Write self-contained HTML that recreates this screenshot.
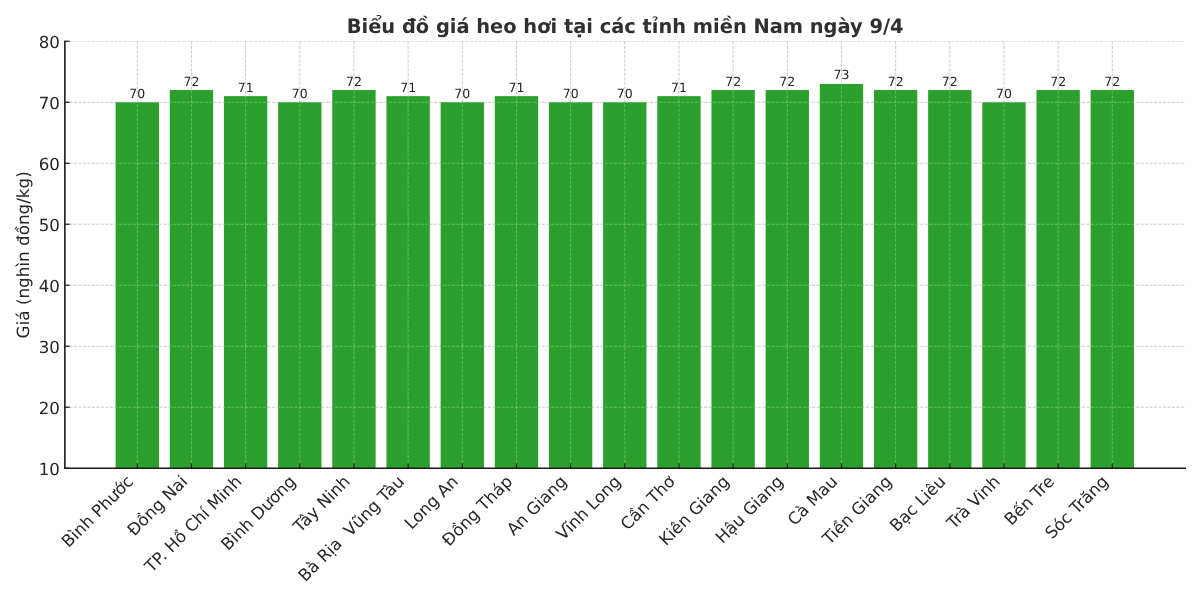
<!DOCTYPE html>
<html lang="vi"><head><meta charset="utf-8"><title>Biểu đồ giá heo hơi</title>
<style>
html,body{margin:0;padding:0;background:#fff;}
svg{display:block;}
text{font-family:"DejaVu Sans","Liberation Sans",sans-serif;fill:#262626;text-rendering:geometricPrecision;}
.tk{font-size:16.67px;}
.vl{font-size:12.5px;text-anchor:middle;}
.ti{font-size:19.42px;font-weight:bold;text-anchor:middle;fill:#303030;}
.yl{font-size:16.8px;text-anchor:middle;}
.xl{font-size:16.67px;text-anchor:end;white-space:pre;}
.yt{font-size:16.67px;text-anchor:end;}
</style></head><body>
<svg width="1200" height="600" viewBox="0 0 1200 600">
<rect width="1200" height="600" fill="#ffffff"/>
<clipPath id="ax"><rect x="65.00" y="41.25" width="1120.90" height="427.00"/></clipPath>
<g clip-path="url(#ax)" stroke="#b0b0b0" stroke-width="0.9" stroke-dasharray="3.1 1.4" stroke-opacity="0.75" fill="none">
<line x1="137.30" y1="41.25" x2="137.30" y2="468.25"/>
<line x1="191.47" y1="41.25" x2="191.47" y2="468.25"/>
<line x1="245.63" y1="41.25" x2="245.63" y2="468.25"/>
<line x1="299.80" y1="41.25" x2="299.80" y2="468.25"/>
<line x1="353.97" y1="41.25" x2="353.97" y2="468.25"/>
<line x1="408.13" y1="41.25" x2="408.13" y2="468.25"/>
<line x1="462.30" y1="41.25" x2="462.30" y2="468.25"/>
<line x1="516.47" y1="41.25" x2="516.47" y2="468.25"/>
<line x1="570.63" y1="41.25" x2="570.63" y2="468.25"/>
<line x1="624.80" y1="41.25" x2="624.80" y2="468.25"/>
<line x1="678.97" y1="41.25" x2="678.97" y2="468.25"/>
<line x1="733.13" y1="41.25" x2="733.13" y2="468.25"/>
<line x1="787.30" y1="41.25" x2="787.30" y2="468.25"/>
<line x1="841.47" y1="41.25" x2="841.47" y2="468.25"/>
<line x1="895.63" y1="41.25" x2="895.63" y2="468.25"/>
<line x1="949.80" y1="41.25" x2="949.80" y2="468.25"/>
<line x1="1003.97" y1="41.25" x2="1003.97" y2="468.25"/>
<line x1="1058.13" y1="41.25" x2="1058.13" y2="468.25"/>
<line x1="1112.30" y1="41.25" x2="1112.30" y2="468.25"/>
<line x1="65.00" y1="468.25" x2="1185.90" y2="468.25"/>
<line x1="65.00" y1="407.25" x2="1185.90" y2="407.25"/>
<line x1="65.00" y1="346.25" x2="1185.90" y2="346.25"/>
<line x1="65.00" y1="285.25" x2="1185.90" y2="285.25"/>
<line x1="65.00" y1="224.25" x2="1185.90" y2="224.25"/>
<line x1="65.00" y1="163.25" x2="1185.90" y2="163.25"/>
<line x1="65.00" y1="102.25" x2="1185.90" y2="102.25"/>
<line x1="65.00" y1="41.25" x2="1185.90" y2="41.25"/>
</g>
<g fill="#2ca02c">
<rect x="115.63" y="102.25" width="43.33" height="366.00"/>
<rect x="169.80" y="90.05" width="43.33" height="378.20"/>
<rect x="223.97" y="96.15" width="43.33" height="372.10"/>
<rect x="278.13" y="102.25" width="43.33" height="366.00"/>
<rect x="332.30" y="90.05" width="43.33" height="378.20"/>
<rect x="386.47" y="96.15" width="43.33" height="372.10"/>
<rect x="440.63" y="102.25" width="43.33" height="366.00"/>
<rect x="494.80" y="96.15" width="43.33" height="372.10"/>
<rect x="548.97" y="102.25" width="43.33" height="366.00"/>
<rect x="603.13" y="102.25" width="43.33" height="366.00"/>
<rect x="657.30" y="96.15" width="43.33" height="372.10"/>
<rect x="711.47" y="90.05" width="43.33" height="378.20"/>
<rect x="765.63" y="90.05" width="43.33" height="378.20"/>
<rect x="819.80" y="83.95" width="43.33" height="384.30"/>
<rect x="873.97" y="90.05" width="43.33" height="378.20"/>
<rect x="928.13" y="90.05" width="43.33" height="378.20"/>
<rect x="982.30" y="102.25" width="43.33" height="366.00"/>
<rect x="1036.47" y="90.05" width="43.33" height="378.20"/>
<rect x="1090.63" y="90.05" width="43.33" height="378.20"/>
</g>
<clipPath id="bars">
<rect x="115.63" y="102.25" width="43.33" height="366.00"/>
<rect x="169.80" y="90.05" width="43.33" height="378.20"/>
<rect x="223.97" y="96.15" width="43.33" height="372.10"/>
<rect x="278.13" y="102.25" width="43.33" height="366.00"/>
<rect x="332.30" y="90.05" width="43.33" height="378.20"/>
<rect x="386.47" y="96.15" width="43.33" height="372.10"/>
<rect x="440.63" y="102.25" width="43.33" height="366.00"/>
<rect x="494.80" y="96.15" width="43.33" height="372.10"/>
<rect x="548.97" y="102.25" width="43.33" height="366.00"/>
<rect x="603.13" y="102.25" width="43.33" height="366.00"/>
<rect x="657.30" y="96.15" width="43.33" height="372.10"/>
<rect x="711.47" y="90.05" width="43.33" height="378.20"/>
<rect x="765.63" y="90.05" width="43.33" height="378.20"/>
<rect x="819.80" y="83.95" width="43.33" height="384.30"/>
<rect x="873.97" y="90.05" width="43.33" height="378.20"/>
<rect x="928.13" y="90.05" width="43.33" height="378.20"/>
<rect x="982.30" y="102.25" width="43.33" height="366.00"/>
<rect x="1036.47" y="90.05" width="43.33" height="378.20"/>
<rect x="1090.63" y="90.05" width="43.33" height="378.20"/>
</clipPath>
<g clip-path="url(#bars)" stroke="#7ccf7c" stroke-width="0.9" stroke-dasharray="3.1 1.4" stroke-opacity="0.75" fill="none">
<line x1="137.30" y1="41.25" x2="137.30" y2="468.25"/>
<line x1="191.47" y1="41.25" x2="191.47" y2="468.25"/>
<line x1="245.63" y1="41.25" x2="245.63" y2="468.25"/>
<line x1="299.80" y1="41.25" x2="299.80" y2="468.25"/>
<line x1="353.97" y1="41.25" x2="353.97" y2="468.25"/>
<line x1="408.13" y1="41.25" x2="408.13" y2="468.25"/>
<line x1="462.30" y1="41.25" x2="462.30" y2="468.25"/>
<line x1="516.47" y1="41.25" x2="516.47" y2="468.25"/>
<line x1="570.63" y1="41.25" x2="570.63" y2="468.25"/>
<line x1="624.80" y1="41.25" x2="624.80" y2="468.25"/>
<line x1="678.97" y1="41.25" x2="678.97" y2="468.25"/>
<line x1="733.13" y1="41.25" x2="733.13" y2="468.25"/>
<line x1="787.30" y1="41.25" x2="787.30" y2="468.25"/>
<line x1="841.47" y1="41.25" x2="841.47" y2="468.25"/>
<line x1="895.63" y1="41.25" x2="895.63" y2="468.25"/>
<line x1="949.80" y1="41.25" x2="949.80" y2="468.25"/>
<line x1="1003.97" y1="41.25" x2="1003.97" y2="468.25"/>
<line x1="1058.13" y1="41.25" x2="1058.13" y2="468.25"/>
<line x1="1112.30" y1="41.25" x2="1112.30" y2="468.25"/>
<line x1="65.00" y1="407.25" x2="1185.90" y2="407.25"/>
<line x1="65.00" y1="346.25" x2="1185.90" y2="346.25"/>
<line x1="65.00" y1="285.25" x2="1185.90" y2="285.25"/>
<line x1="65.00" y1="224.25" x2="1185.90" y2="224.25"/>
<line x1="65.00" y1="163.25" x2="1185.90" y2="163.25"/>
<line x1="65.00" y1="102.25" x2="1185.90" y2="102.25"/>
</g>
<g stroke="#1c1c1c" fill="none">
<line stroke-width="1.6" x1="64.85" y1="40.65" x2="64.85" y2="469.00"/>
<line stroke-width="1.6" x1="64.05" y1="468.25" x2="1185.90" y2="468.25"/>
</g>
<g stroke="#1c1c1c" stroke-width="1.2" fill="none">
<line x1="137.30" y1="468.25" x2="137.30" y2="463.55"/>
<line x1="191.47" y1="468.25" x2="191.47" y2="463.55"/>
<line x1="245.63" y1="468.25" x2="245.63" y2="463.55"/>
<line x1="299.80" y1="468.25" x2="299.80" y2="463.55"/>
<line x1="353.97" y1="468.25" x2="353.97" y2="463.55"/>
<line x1="408.13" y1="468.25" x2="408.13" y2="463.55"/>
<line x1="462.30" y1="468.25" x2="462.30" y2="463.55"/>
<line x1="516.47" y1="468.25" x2="516.47" y2="463.55"/>
<line x1="570.63" y1="468.25" x2="570.63" y2="463.55"/>
<line x1="624.80" y1="468.25" x2="624.80" y2="463.55"/>
<line x1="678.97" y1="468.25" x2="678.97" y2="463.55"/>
<line x1="733.13" y1="468.25" x2="733.13" y2="463.55"/>
<line x1="787.30" y1="468.25" x2="787.30" y2="463.55"/>
<line x1="841.47" y1="468.25" x2="841.47" y2="463.55"/>
<line x1="895.63" y1="468.25" x2="895.63" y2="463.55"/>
<line x1="949.80" y1="468.25" x2="949.80" y2="463.55"/>
<line x1="1003.97" y1="468.25" x2="1003.97" y2="463.55"/>
<line x1="1058.13" y1="468.25" x2="1058.13" y2="463.55"/>
<line x1="1112.30" y1="468.25" x2="1112.30" y2="463.55"/>
<line x1="65.00" y1="468.25" x2="69.70" y2="468.25"/>
<line x1="65.00" y1="407.25" x2="69.70" y2="407.25"/>
<line x1="65.00" y1="346.25" x2="69.70" y2="346.25"/>
<line x1="65.00" y1="285.25" x2="69.70" y2="285.25"/>
<line x1="65.00" y1="224.25" x2="69.70" y2="224.25"/>
<line x1="65.00" y1="163.25" x2="69.70" y2="163.25"/>
<line x1="65.00" y1="102.25" x2="69.70" y2="102.25"/>
<line x1="65.00" y1="41.25" x2="69.70" y2="41.25"/>
</g>
<text class="yt" transform="translate(59.90,474.55)">10</text>
<text class="yt" transform="translate(59.90,413.55)">20</text>
<text class="yt" transform="translate(59.90,352.55)">30</text>
<text class="yt" transform="translate(59.90,291.55)">40</text>
<text class="yt" transform="translate(59.90,230.55)">50</text>
<text class="yt" transform="translate(59.90,169.55)">60</text>
<text class="yt" transform="translate(59.90,108.55)">70</text>
<text class="yt" transform="translate(59.90,47.55)">80</text>
<text class="vl" transform="translate(137.30,97.75) scale(1,1.01)">70</text>
<text class="vl" transform="translate(191.47,85.55) scale(1,1.01)">72</text>
<text class="vl" transform="translate(245.63,91.65) scale(1,1.01)">71</text>
<text class="vl" transform="translate(299.80,97.75) scale(1,1.01)">70</text>
<text class="vl" transform="translate(353.97,85.55) scale(1,1.01)">72</text>
<text class="vl" transform="translate(408.13,91.65) scale(1,1.01)">71</text>
<text class="vl" transform="translate(462.30,97.75) scale(1,1.01)">70</text>
<text class="vl" transform="translate(516.47,91.65) scale(1,1.01)">71</text>
<text class="vl" transform="translate(570.63,97.75) scale(1,1.01)">70</text>
<text class="vl" transform="translate(624.80,97.75) scale(1,1.01)">70</text>
<text class="vl" transform="translate(678.97,91.65) scale(1,1.01)">71</text>
<text class="vl" transform="translate(733.13,85.55) scale(1,1.01)">72</text>
<text class="vl" transform="translate(787.30,85.55) scale(1,1.01)">72</text>
<text class="vl" transform="translate(841.47,79.45) scale(1,1.01)">73</text>
<text class="vl" transform="translate(895.63,85.55) scale(1,1.01)">72</text>
<text class="vl" transform="translate(949.80,85.55) scale(1,1.01)">72</text>
<text class="vl" transform="translate(1003.97,97.75) scale(1,1.01)">70</text>
<text class="vl" transform="translate(1058.13,85.55) scale(1,1.01)">72</text>
<text class="vl" transform="translate(1112.30,85.55) scale(1,1.01)">72</text>
<text class="xl" transform="translate(134.30,482.50) rotate(-45)" xml:space="preserve">Bình Phước</text>
<text class="xl" transform="translate(188.47,482.50) rotate(-45)" xml:space="preserve">Đồng Nai</text>
<text class="xl" transform="translate(242.63,482.50) rotate(-45)" xml:space="preserve">TP. Hồ Chí Minh</text>
<text class="xl" transform="translate(296.80,482.50) rotate(-45)" xml:space="preserve">Bình Dương</text>
<text class="xl" transform="translate(350.97,482.50) rotate(-45)" xml:space="preserve">Tây Ninh</text>
<text class="xl" transform="translate(405.13,482.50) rotate(-45)" xml:space="preserve">Bà Rịa  Vũng Tàu</text>
<text class="xl" transform="translate(459.30,482.50) rotate(-45)" xml:space="preserve">Long An</text>
<text class="xl" transform="translate(513.47,482.50) rotate(-45)" xml:space="preserve">Đồng Tháp</text>
<text class="xl" transform="translate(567.63,482.50) rotate(-45)" xml:space="preserve">An Giang</text>
<text class="xl" transform="translate(621.80,482.50) rotate(-45)" xml:space="preserve">Vĩnh Long</text>
<text class="xl" transform="translate(675.97,482.50) rotate(-45)" xml:space="preserve">Cần Thơ</text>
<text class="xl" transform="translate(730.13,482.50) rotate(-45)" xml:space="preserve">Kiên Giang</text>
<text class="xl" transform="translate(784.30,482.50) rotate(-45)" xml:space="preserve">Hậu Giang</text>
<text class="xl" transform="translate(838.47,482.50) rotate(-45)" xml:space="preserve">Cà Mau</text>
<text class="xl" transform="translate(892.63,482.50) rotate(-45)" xml:space="preserve">Tiền Giang</text>
<text class="xl" transform="translate(946.80,482.50) rotate(-45)" xml:space="preserve">Bạc Liêu</text>
<text class="xl" transform="translate(1000.97,482.50) rotate(-45)" xml:space="preserve">Trà Vinh</text>
<text class="xl" transform="translate(1055.13,482.50) rotate(-45)" xml:space="preserve">Bến Tre</text>
<text class="xl" transform="translate(1109.30,482.50) rotate(-45)" xml:space="preserve">Sóc Trăng</text>
<text class="ti" transform="translate(625.10,32.60) scale(1,1.02)">Biểu đồ giá heo hơi tại các tỉnh miền Nam ngày 9/4</text>
<text class="yl" transform="translate(28.90,254.80) rotate(-90)">Giá (nghìn đồng/kg)</text>
</svg></body></html>
